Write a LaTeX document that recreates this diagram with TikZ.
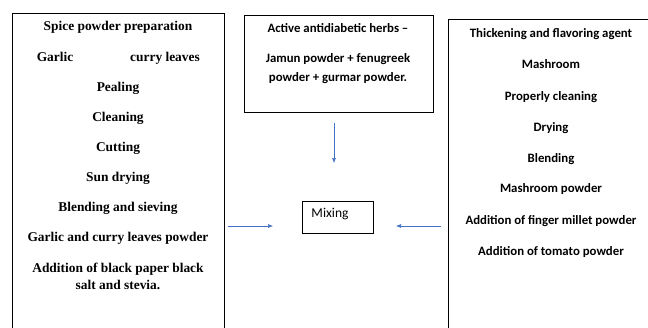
\documentclass[tikz,border=0pt]{standalone}
\usepackage{fontspec}
\setmainfont{Liberation Serif}
\newfontfamily\calib{Carlito}
\usetikzlibrary{arrows.meta}
\definecolor{arrblue}{RGB}{68,114,196}
\begin{document}
\begin{tikzpicture}[x=1pt,y=-1pt,
  box/.style={draw=black,line width=0.9pt},
  ltxt/.style={font=\fontsize{13.4}{16}\selectfont\bfseries,inner sep=0pt,text height=1.5ex,text depth=0.3ex},
  ctxt/.style={font=\calib\fontsize{12.8}{18}\selectfont\bfseries,inner sep=0pt,text height=1.5ex,text depth=0.3ex},
  arr/.style={draw=arrblue,line width=0.6pt,-{Latex[length=5pt,width=4pt]}}]
\useasboundingbox (0,0) rectangle (648,327);
\clip (0,0) rectangle (648,327);
\fill[white] (0,0) rectangle (648,327);
% boxes
\draw[box] (12,13) rectangle (224,340);
\draw[box] (244,15) rectangle (433,112);
\draw[box] (448,19) rectangle (660,340);
\node[box,minimum width=71pt,minimum height=32pt,inner sep=0pt] (mix) at (337.5,217) {};
\node[font=\calib\fontsize{13.5}{15}\selectfont,inner sep=0pt] (mixt) at (330,214) {Mixing};
\begin{scope}[yshift=-1.8pt]
% left text
\node[ltxt] (l1) at (118,26) {Spice powder preparation};
\node[ltxt] (l2a) at (55,57) {Garlic};
\node[ltxt] (l2b) at (165,57) {curry leaves};
\node[ltxt] (l3) at (118,87) {Pealing};
\node[ltxt] (l4) at (118,117) {Cleaning};
\node[ltxt] (l5) at (118,147) {Cutting};
\node[ltxt] (l6) at (118,177) {Sun drying};
\node[ltxt] (l7) at (118,207) {Blending and sieving};
\node[ltxt] (l8) at (118,237) {Garlic and curry leaves powder};
\node[ltxt] (l9a) at (118,268) {Addition of black paper black};
\node[ltxt] (l9b) at (118,285) {salt and stevia.};
% middle text
\node[ctxt] (m1) at (338,28) {Active antidiabetic herbs \textendash};
\node[ctxt] (m2a) at (338,58) {Jamun powder + fenugreek};
\node[ctxt] (m2b) at (338,77) {powder + gurmar powder.};
% right text
\node[ctxt] (r1) at (551,33) {Thickening and flavoring agent};
\node[ctxt] (r2) at (551,64) {Mashroom};
\node[ctxt] (r3) at (551,96) {Properly cleaning};
\node[ctxt] (r4) at (551,127) {Drying};
\node[ctxt] (r5) at (551,158) {Blending};
\node[ctxt] (r6) at (551,188) {Mashroom powder};
\node[ctxt] (r7) at (551,220) {Addition of finger millet powder};
\node[ctxt] (r8) at (551,251) {Addition of tomato powder};
\end{scope}
% arrows
\coordinate (ta) at (334,123);
\coordinate (tb) at (334,163);
\coordinate (la) at (228,226);
\coordinate (lb) at (273,226);
\coordinate (ra) at (441,226);
\coordinate (rb) at (396,226);
\draw[arr] (ta) -- (tb);
\draw[arr] (la) -- (lb);
\draw[arr] (ra) -- (rb);
\end{tikzpicture}
\end{document}
